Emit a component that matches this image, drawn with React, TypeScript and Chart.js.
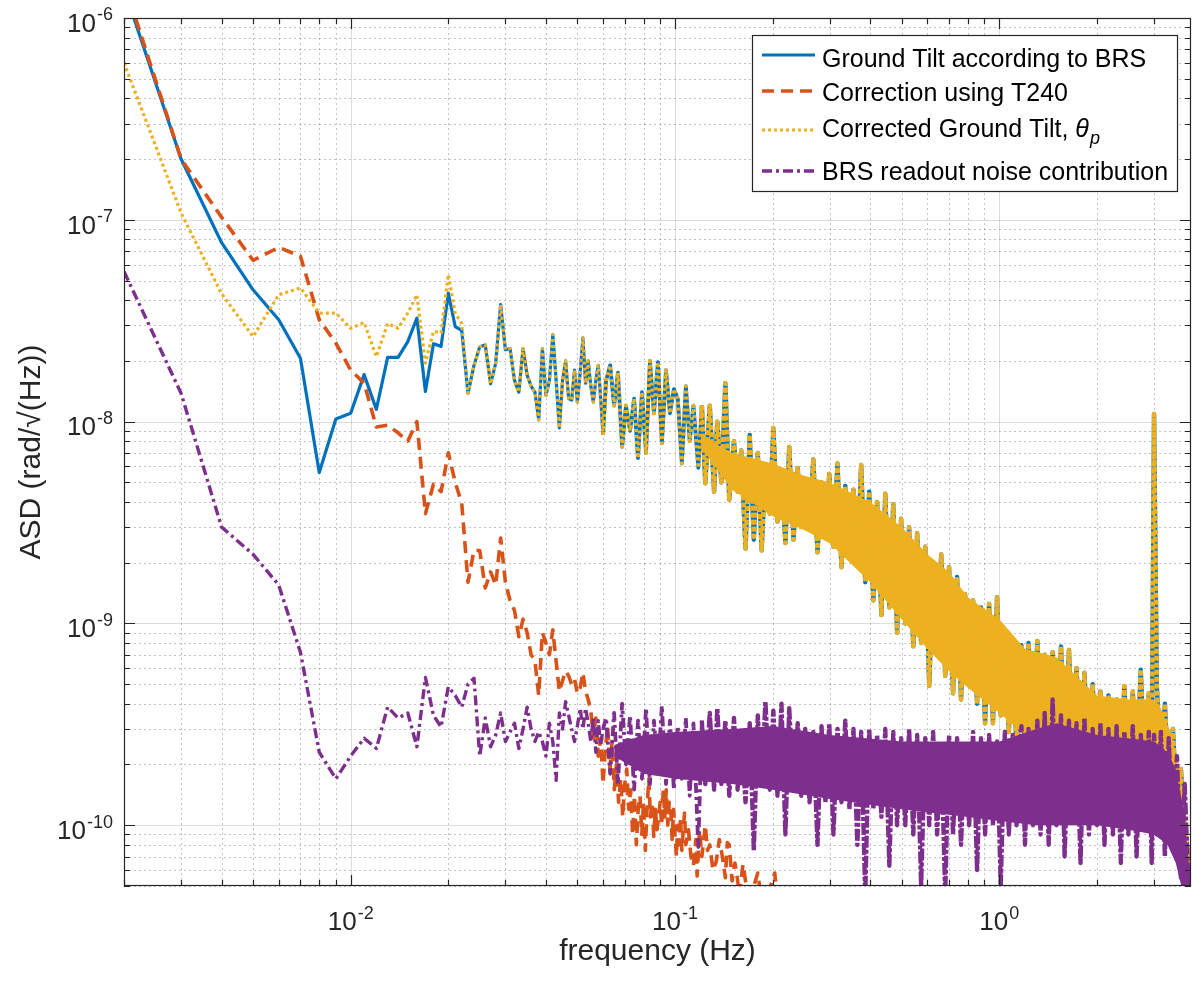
import React, { useEffect, useRef } from "react";
import { Chart, registerables } from "chart.js";

Chart.register(...registerables);

// ---------- data ----------
// well-resolved low-frequency part, 1 mHz resolution
const lowFreq = [
  0.002, 0.003, 0.004, 0.005, 0.006, 0.007, 0.008, 0.009, 0.010, 0.011,
  0.012, 0.013, 0.014, 0.015, 0.016, 0.017, 0.018, 0.019, 0.020, 0.021,
  0.022, 0.023, 0.024, 0.025, 0.026, 0.027, 0.028, 0.029, 0.030, 0.031,
  0.032, 0.033, 0.034, 0.035, 0.036, 0.037, 0.038, 0.039, 0.040, 0.041,
  0.042, 0.043, 0.044, 0.045, 0.046, 0.047, 0.048, 0.049, 0.050, 0.051,
  0.052, 0.053, 0.054, 0.055, 0.056, 0.057, 0.058, 0.059, 0.060,
];

// Ground tilt according to BRS (blue)
const brsLow = [
  1.4e-6, 2.0e-7, 7.7e-8, 4.5e-8, 3.2e-8, 2.06e-8, 5.6e-9, 1.03e-8, 1.1e-8, 1.71e-8,
  1.15e-8, 2.08e-8, 2.08e-8, 2.49e-8, 3.26e-8, 1.41e-8, 2.43e-8, 2.36e-8, 4.33e-8, 2.96e-8,
  2.83e-8, 1.38e-8, 1.9e-8, 2.35e-8, 2.4e-8, 1.54e-8, 1.95e-8, 3.8e-8, 2.27e-8, 2.3e-8,
  1.6e-8, 1.4e-8, 2.3e-8, 1.7e-8, 1.5e-8, 1.4e-8, 1.02e-8, 2.3e-8, 1.35e-8, 1.6e-8,
  2.7e-8, 1.6e-8, 9.3e-9, 1.6e-8, 2.0e-8, 1.3e-8, 1.28e-8, 1.8e-8, 1.25e-8, 1.75e-8,
  2.6e-8, 1.55e-8, 2.0e-8, 1.5e-8, 1.25e-8, 1.6e-8, 1.9e-8, 1.3e-8, 8.6e-9,
];

// Corrected ground tilt (yellow) where it differs from the BRS curve (0.002 .. 0.022 Hz)
const corrLow = [
  6.0e-7, 1.08e-7, 4.3e-8, 2.64e-8, 4.25e-8, 4.6e-8, 3.45e-8, 3.45e-8, 2.9e-8, 3.1e-8,
  2.1e-8, 3.06e-8, 2.9e-8, 3.45e-8, 4.25e-8, 1.95e-8, 2.8e-8, 2.75e-8, 5.35e-8, 3.45e-8,
  3.06e-8,
];

// Correction using T240 (orange)
const t240Low = [
  1.5e-6, 2.0e-7, 1.03e-7, 6.3e-8, 7.3e-8, 6.6e-8, 3.2e-8, 2.45e-8, 1.8e-8, 1.55e-8,
  9.4e-9, 9.6e-9, 8.8e-9, 8.0e-9, 1.0e-8, 3.5e-9, 4.9e-9, 4.5e-9, 7.0e-9, 5.0e-9,
  3.95e-9, 1.6e-9, 2.3e-9, 2.3e-9, 1.5e-9, 1.8e-9, 1.55e-9, 2.65e-9, 1.6e-9, 1.3e-9,
  1.16e-9, 8.6e-10, 1.05e-9, 9.0e-10, 7.0e-10, 6.5e-10, 4.4e-10, 9.0e-10, 8.0e-10, 7.0e-10,
  9.3e-10, 6.5e-10, 4.6e-10, 5.2e-10, 5.8e-10, 5.5e-10, 5.0e-10, 5.3e-10, 4.5e-10, 4.8e-10,
  5.7e-10, 4.6e-10, 4.2e-10, 3.7e-10, 2.7e-10, 3.4e-10, 2.2e-10, 2.7e-10, 1.6e-10,
];
const t240TailFreq = [
  0.061, 0.062, 0.063, 0.064, 0.065, 0.066, 0.067, 0.068, 0.069, 0.070,
  0.071, 0.072, 0.073, 0.074, 0.075, 0.076, 0.077, 0.078, 0.079, 0.080,
  0.081, 0.082, 0.083, 0.084, 0.085, 0.086, 0.087, 0.088, 0.089, 0.090,
  0.091, 0.092, 0.093, 0.094, 0.095, 0.096, 0.097, 0.098, 0.099, 0.100,
  0.101, 0.102, 0.103, 0.104, 0.105, 0.106, 0.107, 0.108, 0.110, 0.112,
  0.114, 0.116, 0.117, 0.119, 0.121, 0.124, 0.126, 0.128, 0.131, 0.134,
  0.137, 0.140, 0.143, 0.145, 0.147, 0.150, 0.153, 0.155, 0.158, 0.162,
  0.166, 0.170, 0.175, 0.180, 0.185, 0.190, 0.197, 0.203, 0.210, 0.250,
];
const t240Tail = [
  2.4e-10, 3.1e-10, 1.9e-10, 2.6e-10, 1.5e-10, 2.0e-10, 1.3e-10, 1.7e-10, 1.1e-10, 1.6e-10,
  1.9e-10, 1.2e-10, 1.5e-10, 9e-11, 1.4e-10, 8e-11, 1.2e-10, 1.4e-10, 9e-11, 1.3e-10,
  7.5e-11, 1.2e-10, 1.7e-10, 1.1e-10, 1.3e-10, 8.8e-11, 1.2e-10, 9.5e-11, 1.1e-10, 1.3e-10,
  1.0e-10, 1.5e-10, 1.1e-10, 1.5e-10, 1.0e-10, 1.3e-10, 1.2e-10, 8.5e-11, 1.2e-10, 9e-11,
  7e-11, 1.0e-10, 8e-11, 1.1e-10, 7.5e-11, 9.5e-11, 1.15e-10, 8e-11, 9.5e-11, 7e-11,
  6.3e-11, 8.5e-11, 5.6e-11, 9.5e-11, 7e-11, 1.0e-10, 7.5e-11, 8e-11, 6e-11, 6.6e-11,
  8.5e-11, 7e-11, 5.5e-11, 8.2e-11, 8e-11, 5.3e-11, 6.5e-11, 5.8e-11, 4.5e-11, 6.4e-11,
  5e-11, 4.5e-11, 5e-11, 5.8e-11, 4.2e-11, 4.0e-11, 5e-11, 5.8e-11, 3.5e-11, 2.0e-11,
];

// BRS readout noise contribution (purple)
const readoutLow = [
  5.55e-8, 1.38e-8, 3.0e-9, 2.2e-9, 1.55e-9, 7.2e-10, 2.3e-10, 1.7e-10, 2.2e-10, 2.7e-10,
  2.4e-10, 3.85e-10, 3.4e-10, 3.6e-10, 2.45e-10, 5.4e-10, 3.5e-10, 3.07e-10, 4.85e-10, 4.4e-10,
  3.85e-10, 5.0e-10, 5.35e-10, 2.2e-10, 3.4e-10, 2.45e-10, 2.8e-10, 3.6e-10, 2.6e-10, 2.9e-10,
  3.2e-10, 2.4e-10, 3.0e-10, 3.85e-10, 3.0e-10, 2.6e-10, 2.9e-10, 2.6e-10, 2.2e-10, 3.2e-10,
  2.6e-10, 1.67e-10, 3.6e-10, 3.0e-10, 4.1e-10, 3.5e-10, 3.0e-10, 2.6e-10, 3.1e-10, 3.8e-10,
  3.0e-10, 3.8e-10, 3.2e-10, 2.6e-10, 3.4e-10, 2.3e-10, 3.3e-10, 2.5e-10, 3.0e-10,
];

// dense high-frequency part: peaks and troughs
const denseFreq = [
  0.0613, 0.0631, 0.0649, 0.0667, 0.0687, 0.0706, 0.0727, 0.0748, 0.0769, 0.0791,
  0.0814, 0.0837, 0.0861, 0.0886, 0.0911, 0.0938, 0.0965, 0.0992, 0.102, 0.105,
  0.108, 0.111, 0.114, 0.118, 0.121, 0.124, 0.128, 0.132, 0.135, 0.139,
  0.143, 0.147, 0.152, 0.156, 0.160, 0.165, 0.170, 0.175, 0.180, 0.185,
  0.190, 0.196, 0.201, 0.207, 0.213, 0.219, 0.225, 0.232, 0.239, 0.245,
  0.252, 0.260, 0.267, 0.275, 0.283, 0.291, 0.299, 0.308, 0.317, 0.326,
  0.335, 0.345, 0.355, 0.365, 0.375, 0.386, 0.397, 0.409, 0.420, 0.433,
  0.445, 0.458, 0.471, 0.484, 0.498, 0.513, 0.527, 0.543, 0.558, 0.574,
  0.591, 0.608, 0.625, 0.643, 0.662, 0.681, 0.700, 0.720, 0.741, 0.762,
  0.784, 0.807, 0.830, 0.854, 0.878, 0.904, 0.930, 0.956, 0.984, 1.01,
  1.04, 1.07, 1.10, 1.13, 1.17, 1.20, 1.23, 1.27, 1.31, 1.34,
  1.38, 1.42, 1.46, 1.50, 1.55, 1.59, 1.64, 1.68, 1.73, 1.78,
  1.83, 1.89, 1.94, 2.00, 2.05, 2.11, 2.17, 2.24, 2.30, 2.37,
  2.43, 2.50, 2.58, 2.65, 2.73, 2.81, 2.89, 2.95, 3.00, 3.06,
  3.15, 3.24, 3.33, 3.43, 3.53, 3.63, 3.73, 3.84, 3.95,
];

const brsDense = [
  1.6e-8, 1.9e-8, 1.2e-8, 1.75e-8, 7.5e-9, 1.2e-8, 9e-9, 1.3e-8, 6.6e-9, 1.4e-8,
  7e-9, 2.0e-8, 1.1e-8, 1.97e-8, 7.8e-9, 1.8e-8, 1.1e-8, 1.45e-8, 1.3e-8, 6.2e-9,
  1.5e-8, 8e-9, 1.2e-8, 5.9e-9, 1.2e-8, 4.95e-9, 1.2e-8, 4.5e-9, 1.0e-8, 5e-9,
  1.55e-8, 4.1e-9, 8e-9, 4.5e-9, 7.2e-9, 2.35e-9, 8.6e-9, 2.6e-9, 7e-9, 2.3e-9,
  6e-9, 3.5e-9, 9.3e-9, 3.2e-9, 5.5e-9, 2.5e-9, 7.5e-9, 2.6e-9, 5.9e-9, 3.0e-9,
  5.2e-9, 3.2e-9, 6.5e-9, 2.25e-9, 5.0e-9, 2.8e-9, 5.5e-9, 2.4e-9, 6.2e-9, 1.9e-9,
  4.8e-9, 2.4e-9, 4.6e-9, 2.0e-9, 6.1e-9, 1.6e-9, 4.5e-9, 1.3e-9, 4.0e-9, 1.1e-9,
  4.4e-9, 1.2e-9, 3.9e-9, 9e-10, 3.3e-9, 1.0e-9, 3.0e-9, 7.7e-10, 2.8e-9, 8e-10,
  2.4e-9, 4.9e-10, 2.0e-9, 7e-10, 2.2e-9, 5.5e-10, 1.9e-9, 4.5e-10, 1.7e-9, 4.2e-10,
  1.4e-9, 5e-10, 1.3e-9, 4e-10, 1.2e-9, 3.2e-10, 1.25e-9, 3.2e-10, 1.35e-9, 3.5e-10,
  8.5e-10, 2.9e-10, 7.5e-10, 2.4e-10, 7.8e-10, 2.6e-10, 8.0e-10, 2.5e-10, 8.2e-10, 2.4e-10,
  7.0e-10, 2.3e-10, 7.2e-10, 2.3e-10, 7.7e-10, 2.2e-10, 7.4e-10, 2.2e-10, 6.0e-10, 2.1e-10,
  5.7e-10, 2.0e-10, 5.0e-10, 2.0e-10, 4.6e-10, 2.0e-10, 4.4e-10, 1.9e-10, 4.2e-10, 1.9e-10,
  4.9e-10, 1.9e-10, 4.6e-10, 1.8e-10, 5.9e-10, 1.8e-10, 4.5e-10, 2.0e-10, 1.09e-8, 4.9e-10,
  1.8e-10, 4.0e-10, 1.6e-10, 3.0e-10, 1.2e-10, 1.9e-10, 9e-11, 7e-11, 4e-11,
];

const readoutDense = [
  3.4e-10, 1.8e-10, 3.6e-10, 1.6e-10, 4.0e-10, 2.0e-10, 3.5e-10, 1.5e-10, 3.3e-10, 1.7e-10,
  3.8e-10, 1.6e-10, 3.3e-10, 1.9e-10, 3.9e-10, 1.6e-10, 3.3e-10, 1.5e-10, 3.1e-10, 1.7e-10,
  3.4e-10, 1.4e-10, 3.2e-10, 7.8e-11, 3.3e-10, 1.6e-10, 3.6e-10, 1.5e-10, 3.8e-10, 1.6e-10,
  3.3e-10, 1.4e-10, 3.4e-10, 1.5e-10, 2.9e-10, 1.3e-10, 3.2e-10, 7.5e-11, 3.5e-10, 1.6e-10,
  4.1e-10, 1.5e-10, 3.7e-10, 1.4e-10, 4.0e-10, 9e-11, 3.8e-10, 1.5e-10, 3.2e-10, 1.4e-10,
  3.0e-10, 1.3e-10, 2.9e-10, 8e-11, 3.1e-10, 1.3e-10, 3.2e-10, 9e-11, 3.0e-10, 1.3e-10,
  3.3e-10, 1.2e-10, 3.0e-10, 8e-11, 2.9e-10, 4.5e-11, 3.0e-10, 1.2e-10, 2.8e-10, 1.1e-10,
  3.0e-10, 6.3e-11, 2.9e-10, 1.0e-10, 2.7e-10, 1.0e-10, 3.0e-10, 9e-11, 2.8e-10, 5e-11,
  2.7e-10, 1.0e-10, 2.9e-10, 9e-11, 2.6e-10, 4.5e-11, 2.8e-10, 9e-11, 2.7e-10, 8e-11,
  2.6e-10, 1.0e-10, 2.9e-10, 6e-11, 2.7e-10, 9e-11, 2.8e-10, 1.0e-10, 2.6e-10, 5e-11,
  2.9e-10, 9e-11, 2.8e-10, 1.0e-10, 3.1e-10, 8e-11, 3.0e-10, 1.0e-10, 3.3e-10, 9e-11,
  3.6e-10, 8e-11, 4.2e-10, 1.0e-10, 3.5e-10, 7e-11, 3.3e-10, 1.0e-10, 3.2e-10, 6.5e-11,
  3.4e-10, 9e-11, 3.0e-10, 1.0e-10, 3.2e-10, 8e-11, 3.0e-10, 9e-11, 3.1e-10, 6.5e-11,
  2.9e-10, 9e-11, 3.1e-10, 7e-11, 2.8e-10, 1.0e-10, 2.9e-10, 6.5e-11, 2.8e-10, 9e-11,
  2.9e-10, 7e-11, 2.7e-10, 8e-11, 2.2e-10, 5.5e-11, 1.6e-10, 4.5e-11, 3e-11,
];

// solid core of the dense bands (where the spectrum is visually filled)
const tiltBandFreq = [
  0.12, 0.15, 0.2, 0.25, 0.3, 0.4, 0.5, 0.6, 0.7, 0.8,
  1.0, 1.2, 1.5, 2.0, 2.5, 2.9, 3.1, 3.4, 3.6, 3.8, 3.9,
];
const tiltBandUpper = [
  8.5e-9, 7.0e-9, 6.2e-9, 5.4e-9, 5.0e-9, 4.0e-9, 3.0e-9, 2.2e-9, 1.8e-9, 1.35e-9,
  1.05e-9, 7.5e-10, 6.8e-10, 4.4e-10, 4.2e-10, 4.2e-10, 4.0e-10, 2.8e-10, 1.8e-10, 1.0e-10, 6e-11,
];
const tiltBandLower = [
  7.5e-9, 4.6e-9, 3.4e-9, 2.9e-9, 2.5e-9, 1.6e-9, 1.05e-9, 7.5e-10, 5.8e-10, 4.8e-10,
  3.6e-10, 2.8e-10, 2.5e-10, 2.2e-10, 2.1e-10, 2.1e-10, 1.9e-10, 1.4e-10, 9e-11, 5e-11, 4e-11,
];
const readoutBandFreq = [
  0.065, 0.08, 0.1, 0.15, 0.2, 0.3, 0.5, 0.8, 1.0, 1.3,
  1.5, 2.0, 2.5, 3.0, 3.3, 3.5, 3.7, 3.9,
];
const readoutBandUpper = [
  2.5e-10, 2.8e-10, 2.9e-10, 3.0e-10, 3.1e-10, 2.8e-10, 2.6e-10, 2.6e-10, 2.6e-10, 3.0e-10,
  3.2e-10, 2.8e-10, 2.7e-10, 2.6e-10, 2.3e-10, 1.9e-10, 1.2e-10, 5e-11,
];
const readoutBandLower = [
  2.2e-10, 1.8e-10, 1.7e-10, 1.6e-10, 1.5e-10, 1.35e-10, 1.2e-10, 1.1e-10, 1.05e-10, 1.0e-10,
  1.0e-10, 1.0e-10, 9.5e-11, 9e-11, 8e-11, 6.5e-11, 4.5e-11, 3e-11,
];

// ---------- labels ----------
const seriesNames = [
  "Ground Tilt according to BRS",
  "Correction using T240",
  "Corrected Ground Tilt, ",
  "BRS readout noise contribution",
];
const seriesColors = ["#0072BD", "#D95319", "#EDB120", "#7E2F8E"];
const seriesDashes: number[][] = [[], [12, 7], [3, 3], [10, 4, 3, 4]];
const denseDashes: number[][] = [[], [12, 7], [5, 2], [12, 2, 4, 2]];
const seriesWidths = [3.2, 3.6, 3.2, 3.4];
const xTickValues = [0.01, 0.1, 1];
const xTickExponents = ["-2", "-1", "0"];
const yTickValues = [1e-10, 1e-9, 1e-8, 1e-7, 1e-6];
const yTickExponents = ["-10", "-9", "-8", "-7", "-6"];
const xTitle = "frequency (Hz)";
const yTitle = "ASD (rad/\u221A(Hz))";
const xRange = [0.002, 3.9];
const yRange = [5e-11, 1e-6];

const FONT = '"Liberation Sans", Arial, Helvetica, sans-serif';
const AXIS_COLOR = "#262626";

function pairs(fs: number[], vs: number[]) {
  return fs.map((f, i) => ({ x: f, y: vs[i] }));
}

function logGrid(min: number, max: number) {
  const out: { v: number; major: boolean }[] = [];
  const e0 = Math.floor(Math.log10(min));
  const e1 = Math.ceil(Math.log10(max));
  for (let e = e0; e <= e1; e++) {
    for (let m = 1; m <= 9; m++) {
      const v = m * Math.pow(10, e);
      if (v >= min * 0.9999 && v <= max * 1.0001) out.push({ v, major: m === 1 });
    }
  }
  return out;
}

// line width used where the spectrum becomes so dense that it reads as a band
function segWidth(i: number, f: number) {
  if (i === 1) return seriesWidths[i];
  if (f < 0.06) return seriesWidths[i];
  if (f < 0.12) return 3.8;
  return 4.4;
}
function segDash(i: number, f: number) {
  return f < 0.12 ? seriesDashes[i] : denseDashes[i];
}

function drawPow(ctx: CanvasRenderingContext2D, exp: string, x: number, tickPos: number, align: "right" | "center") {
  const baseFont = `26px ${FONT}`;
  const expFont = `18px ${FONT}`;
  ctx.font = baseFont;
  const wb = ctx.measureText("10").width;
  ctx.font = expFont;
  const we = ctx.measureText(exp).width;
  const total = wb + we + 1;
  const left = align === "right" ? x - total : x - total / 2;
  ctx.textAlign = "left";
  ctx.textBaseline = "alphabetic";
  ctx.fillStyle = AXIS_COLOR;
  ctx.font = baseFont;
  ctx.fillText("10", left, tickPos + 13.8);
  ctx.font = expFont;
  ctx.fillText(exp, left + wb + 1, tickPos + 2.4);
}

const matlabAxes = {
  id: "matlabAxes",
  beforeDatasetsDraw(chart: any) {
    const { ctx, chartArea: a, scales } = chart;
    const xs = scales.x;
    const ys = scales.y;
    const xg = logGrid(xs.min, xs.max);
    const yg = logGrid(ys.min, ys.max);
    ctx.save();
    ctx.lineWidth = 1;
    // minor grid (dotted)
    ctx.strokeStyle = "rgba(38,38,38,0.28)";
    ctx.setLineDash([2, 3]);
    ctx.beginPath();
    for (const t of xg) {
      if (t.major) continue;
      const px = Math.round(xs.getPixelForValue(t.v)) + 0.5;
      ctx.moveTo(px, a.top);
      ctx.lineTo(px, a.bottom);
    }
    for (const t of yg) {
      if (t.major) continue;
      const py = Math.round(ys.getPixelForValue(t.v)) + 0.5;
      ctx.moveTo(a.left, py);
      ctx.lineTo(a.right, py);
    }
    ctx.stroke();
    // major grid (solid)
    ctx.setLineDash([]);
    ctx.strokeStyle = "rgba(38,38,38,0.16)";
    ctx.beginPath();
    for (const t of xg) {
      if (!t.major) continue;
      const px = Math.round(xs.getPixelForValue(t.v)) + 0.5;
      ctx.moveTo(px, a.top);
      ctx.lineTo(px, a.bottom);
    }
    for (const t of yg) {
      if (!t.major) continue;
      const py = Math.round(ys.getPixelForValue(t.v)) + 0.5;
      ctx.moveTo(a.left, py);
      ctx.lineTo(a.right, py);
    }
    ctx.stroke();
    ctx.restore();
  },
  afterDatasetsDraw(chart: any) {
    const { ctx, chartArea: a, scales } = chart;
    const xs = scales.x;
    const ys = scales.y;
    ctx.save();
    ctx.setLineDash([]);
    // box
    ctx.strokeStyle = AXIS_COLOR;
    ctx.lineWidth = 1.2;
    ctx.strokeRect(a.left + 0.5, a.top + 0.5, a.right - a.left - 1, a.bottom - a.top - 1);
    // inward ticks on all sides
    ctx.beginPath();
    for (const t of logGrid(xs.min, xs.max)) {
      const px = Math.round(xs.getPixelForValue(t.v)) + 0.5;
      const len = t.major ? 11 : 6;
      ctx.moveTo(px, a.bottom);
      ctx.lineTo(px, a.bottom - len);
      ctx.moveTo(px, a.top);
      ctx.lineTo(px, a.top + len);
    }
    for (const t of logGrid(ys.min, ys.max)) {
      const py = Math.round(ys.getPixelForValue(t.v)) + 0.5;
      const len = t.major ? 11 : 6;
      ctx.moveTo(a.left, py);
      ctx.lineTo(a.left + len, py);
      ctx.moveTo(a.right, py);
      ctx.lineTo(a.right - len, py);
    }
    ctx.stroke();
    // tick labels
    xTickValues.forEach((v, i) => {
      const px = xs.getPixelForValue(v);
      drawPow(ctx, xTickExponents[i], px, 916.5, "center");
    });
    yTickValues.forEach((v, i) => {
      const py = ys.getPixelForValue(v);
      drawPow(ctx, yTickExponents[i], 113, py, "right");
    });
    // axis titles
    ctx.fillStyle = AXIS_COLOR;
    ctx.font = `30px ${FONT}`;
    ctx.textAlign = "center";
    ctx.textBaseline = "alphabetic";
    ctx.fillText(xTitle, (a.left + a.right) / 2, 960);
    ctx.save();
    ctx.translate(40, (a.top + a.bottom) / 2);
    ctx.rotate(-Math.PI / 2);
    ctx.fillText(yTitle, 0, 0);
    ctx.restore();

    // legend
    const lx = 752, ly = 35, lw = 425, lh = 156;
    ctx.fillStyle = "#ffffff";
    ctx.fillRect(lx, ly, lw, lh);
    ctx.strokeStyle = AXIS_COLOR;
    ctx.lineWidth = 1.2;
    ctx.strokeRect(lx + 0.5, ly + 0.5, lw, lh);
    const rowLine = [55, 91, 130, 171];
    const rowBase = [67, 101, 137, 180];
    seriesNames.forEach((name, i) => {
      ctx.save();
      ctx.strokeStyle = seriesColors[i];
      ctx.lineWidth = seriesWidths[i];
      ctx.setLineDash(seriesDashes[i]);
      ctx.beginPath();
      ctx.moveTo(762, rowLine[i]);
      ctx.lineTo(815, rowLine[i]);
      ctx.stroke();
      ctx.restore();
      ctx.fillStyle = "#000000";
      ctx.font = `25px ${FONT}`;
      ctx.textAlign = "left";
      ctx.textBaseline = "alphabetic";
      ctx.fillText(name, 822, rowBase[i]);
      if (i === 2) {
        const w = ctx.measureText(name).width;
        ctx.font = `italic 25px ${FONT}`;
        ctx.fillText("\u03B8", 822 + w, rowBase[i]);
        const wt = ctx.measureText("\u03B8").width;
        ctx.font = `italic 18px ${FONT}`;
        ctx.fillText("p", 822 + w + wt + 1, rowBase[i] + 7);
      }
    });
    ctx.restore();
  },
};

export default function App() {
  const ref = useRef<HTMLCanvasElement | null>(null);
  useEffect(() => {
    if (!ref.current) return;
    document.body.style.margin = "0";
    const brsData = pairs(lowFreq, brsLow).concat(pairs(denseFreq, brsDense));
    const corrData = pairs(
      lowFreq,
      lowFreq.map((_, i) => (i < corrLow.length ? corrLow[i] : brsLow[i]))
    ).concat(pairs(denseFreq, brsDense));
    const t240Data = pairs(lowFreq, t240Low).concat(pairs(t240TailFreq, t240Tail));
    const readoutData = pairs(lowFreq, readoutLow).concat(pairs(denseFreq, readoutDense));
    const all = [brsData, t240Data, corrData, readoutData];
    const orders = [10, 9, 7, 5];
    const lineSets = all.map((d, i) => ({
      label: seriesNames[i],
      data: d,
      borderColor: seriesColors[i],
      backgroundColor: seriesColors[i],
      borderWidth: seriesWidths[i],
      borderDash: seriesDashes[i],
      borderCapStyle: "butt",
      borderJoinStyle: "round",
      pointRadius: 0,
      tension: 0,
      fill: false,
      order: orders[i],
      segment: {
        borderWidth: (c: any) => segWidth(i, c.p0.parsed.x),
        borderDash: (c: any) => segDash(i, c.p0.parsed.x),
      },
    }));
    const band = (fs: number[], vs: number[], color: string, order: number, fill: any) => ({
      label: "",
      data: pairs(fs, vs),
      borderWidth: 0,
      borderColor: "rgba(0,0,0,0)",
      backgroundColor: color,
      pointRadius: 0,
      tension: 0,
      fill,
      order,
    });
    const datasets = [
      ...lineSets,
      band(tiltBandFreq, tiltBandUpper, seriesColors[2], 8, "+1"),
      band(tiltBandFreq, tiltBandLower, seriesColors[2], 8, false),
      band(readoutBandFreq, readoutBandUpper, seriesColors[3], 6, "+1"),
      band(readoutBandFreq, readoutBandLower, seriesColors[3], 6, false),
    ];
    const chart = new Chart(ref.current, {
      type: "line",
      data: { datasets },
      options: {
        animation: false,
        responsive: false,
        maintainAspectRatio: false,
        layout: { padding: { left: 124, top: 18, right: 1, bottom: 97 } },
        plugins: { legend: { display: false }, tooltip: { enabled: false } },
        events: [],
        scales: {
          x: { type: "logarithmic", min: xRange[0], max: xRange[1], display: false },
          y: { type: "logarithmic", min: yRange[0], max: yRange[1], display: false },
        },
      },
      plugins: [matlabAxes],
    } as any);
    return () => chart.destroy();
  }, []);
  return (
    <div style={{ position: "absolute", left: 0, top: 0, width: 1192, height: 983, background: "#fff" }}>
      <canvas ref={ref} width={1192} height={983} style={{ width: 1192, height: 983, display: "block" }} />
    </div>
  );
}
